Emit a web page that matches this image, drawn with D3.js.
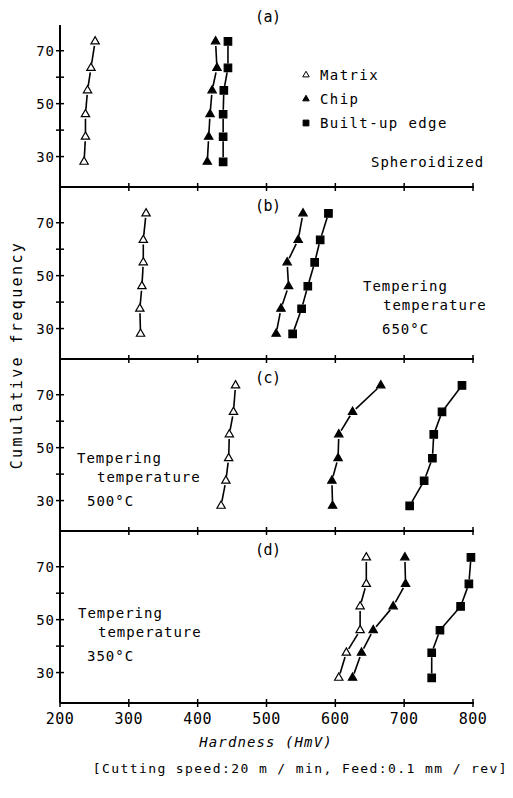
<!DOCTYPE html>
<html>
<head>
<meta charset="utf-8">
<script src="https://cdn.jsdelivr.net/npm/d3@7"></script>
<style>
  body { margin: 0; background: #fff; }
  text { font-family: "DejaVu Sans Mono", monospace; fill: #000; }
</style>
</head>
<body>
<svg id="chart" width="513" height="798"></svg>
<script>
{
  // cumulative frequency levels (same for every series)
  const freq = [28, 37.5, 46, 55, 63.5, 73.5];
  const panelLabels = ['(a)', '(b)', '(c)', '(d)'];

  // hardness per panel: (a) spheroidized, (b) 650C, (c) 500C, (d) 350C
  const matrix = [
    [235, 237, 237, 240, 245, 251],
    [317, 316, 319, 321, 321, 325],
    [434, 441, 445, 446, 452, 455],
    [605, 616, 636, 636, 645, 645]
  ];
  const chip = [
    [414, 416, 418, 421, 428, 426],
    [514, 521, 532, 530, 546, 553],
    [596, 595, 604, 605, 625, 666],
    [625, 638, 655, 684, 702, 701]
  ];
  const bue = [
    [437, 437, 437, 438, 444, 444],
    [538, 551, 560, 570, 578, 590],
    [708, 729, 741, 743, 755, 784],
    [740, 740, 752, 782, 794, 797]
  ];

  const xTicks = [200, 300, 400, 500, 600, 700, 800];
  const yMajor = [30, 50, 70];
  const yMinor = [40, 60];
  const legendNames = ['Matrix', 'Chip', 'Built-up edge'];

  const svg = d3.select('#chart');
  const BLACK = '#000';

  const x = d3.scaleLinear().domain([200, 800]).range([60, 473]);
  const PANEL_H = 172;
  const FIRST_BOTTOM = 187;
  const y = d3.scaleLinear().domain([18.5, 83.5]).range([PANEL_H, 0]);

  const series = [
    {data: matrix, shape: d3.symbolTriangle, fill: '#fff', size: 30},
    {data: chip, shape: d3.symbolTriangle, fill: BLACK, size: 30},
    {data: bue, shape: d3.symbolSquare, fill: BLACK, size: 56}
  ];

  panelLabels.forEach((label, i) => {
    const top = FIRST_BOTTOM + i * PANEL_H - PANEL_H;
    const g = svg.append('g').attr('transform', `translate(0,${top})`);

    // left axis
    const axisTop = i === 0 ? y(79.7) : 0;
    g.append('line')
      .attr('x1', 60).attr('x2', 60)
      .attr('y1', axisTop).attr('y2', PANEL_H)
      .attr('stroke', BLACK).attr('stroke-width', 2);

    g.selectAll('.ymaj')
      .data(yMajor.concat(yMinor))
      .join('line')
        .attr('x1', 56).attr('x2', 64)
        .attr('y1', d => y(d)).attr('y2', d => y(d))
        .attr('stroke', BLACK).attr('stroke-width', 1.5);

    g.selectAll('.ylab')
      .data(yMajor)
      .join('text')
        .attr('x', 55).attr('y', d => y(d) + 5)
        .attr('text-anchor', 'end')
        .style('font-size', '14px')
        .style('letter-spacing', '1px')
        .text(d => d);

    // bottom axis of this panel (top border of the next)
    g.append('line')
      .attr('x1', 60).attr('x2', 474)
      .attr('y1', PANEL_H).attr('y2', PANEL_H)
      .attr('stroke', BLACK).attr('stroke-width', 2);

    g.selectAll('.xt')
      .data(xTicks)
      .join('line')
        .attr('x1', d => x(d)).attr('x2', d => x(d))
        .attr('y1', PANEL_H - 4).attr('y2', PANEL_H + 4)
        .attr('stroke', BLACK).attr('stroke-width', 1.5);

    g.append('text')
      .attr('x', 255).attr('y', i === 0 ? 22 - top : y(76.5) + 5)
      .style('font-size', '15px')
      .style('letter-spacing', '-0.5px')
      .text(label);

    series.forEach(s => {
      const pts = s.data[i].map((h, k) => [x(h), y(freq[k])]);
      const gap = 4.5;
      const segs = d3.pairs(pts).map(([a, b]) => {
        const dx = b[0] - a[0], dy = b[1] - a[1];
        const len = Math.hypot(dx, dy);
        const ux = dx / len, uy = dy / len;
        return [a[0] + ux * gap, a[1] + uy * gap, b[0] - ux * gap, b[1] - uy * gap];
      });

      g.append('g').selectAll('line')
        .data(segs)
        .join('line')
          .attr('x1', d => d[0]).attr('y1', d => d[1])
          .attr('x2', d => d[2]).attr('y2', d => d[3])
          .attr('stroke', BLACK).attr('stroke-width', 1.6);

      g.append('g').selectAll('path')
        .data(pts)
        .join('path')
          .attr('transform', d => `translate(${d[0]},${d[1]})`)
          .attr('d', d3.symbol(s.shape, s.size))
          .attr('fill', s.fill)
          .attr('stroke', BLACK)
          .attr('stroke-width', 1.2);
    });
  });

  // x tick labels on the bottom panel
  const bottom = FIRST_BOTTOM + 3 * PANEL_H;
  svg.selectAll('.xlab')
    .data(xTicks)
    .join('text')
      .attr('x', d => x(d)).attr('y', bottom + 21)
      .attr('text-anchor', 'middle')
      .style('font-size', '15px')
      .style('letter-spacing', '0.5px')
      .text(d => d);

  svg.append('text')
    .attr('x', 266).attr('y', bottom + 44)
    .attr('text-anchor', 'middle')
    .style('font-size', '14px')
    .style('font-style', 'italic')
    .style('letter-spacing', '1.1px')
    .text('Hardness (HmV)');

  svg.append('text')
    .attr('transform', 'translate(22,355) rotate(-90)')
    .attr('text-anchor', 'middle')
    .style('font-size', '15px')
    .style('letter-spacing', '2.4px')
    .text('Cumulative frequency');

  svg.append('text')
    .attr('x', 508).attr('y', 773)
    .attr('text-anchor', 'end')
    .style('font-size', '13px')
    .style('letter-spacing', '1.4px')
    .text('[Cutting speed:20 m / min, Feed:0.1 mm / rev]');

  // legend
  series.forEach((s, k) => {
    const ly = 75 + k * 24;
    svg.append('path')
      .attr('transform', `translate(306,${ly})`)
      .attr('d', d3.symbol(s.shape, s.size * 0.6))
      .attr('fill', s.fill)
      .attr('stroke', BLACK)
      .attr('stroke-width', 1);
    svg.append('text')
      .attr('x', 320).attr('y', ly + 5)
      .style('font-size', '14px')
      .style('letter-spacing', '1.4px')
      .text(legendNames[k]);
  });

  // panel notes
  const notes = [
    {x: 371, y: 167, lines: ['Spheroidized'], dx: [0]},
    {x: 363, y: 291, lines: ['Tempering', 'temperature', '650\u00b0C'], dx: [0, 20, 19]},
    {x: 77, y: 463, lines: ['Tempering', 'temperature', '500\u00b0C'], dx: [0, 20, 10]},
    {x: 78, y: 618, lines: ['Tempering', 'temperature', '350\u00b0C'], dx: [0, 20, 9]}
  ];
  const lineY = [0, 19, 43];
  notes.forEach(n => {
    n.lines.forEach((t, k) => {
      svg.append('text')
        .attr('x', n.x + n.dx[k]).attr('y', n.y + lineY[k])
        .style('font-size', '14px')
        .style('letter-spacing', '1px')
        .text(t);
    });
  });
}
</script>
</body>
</html>
